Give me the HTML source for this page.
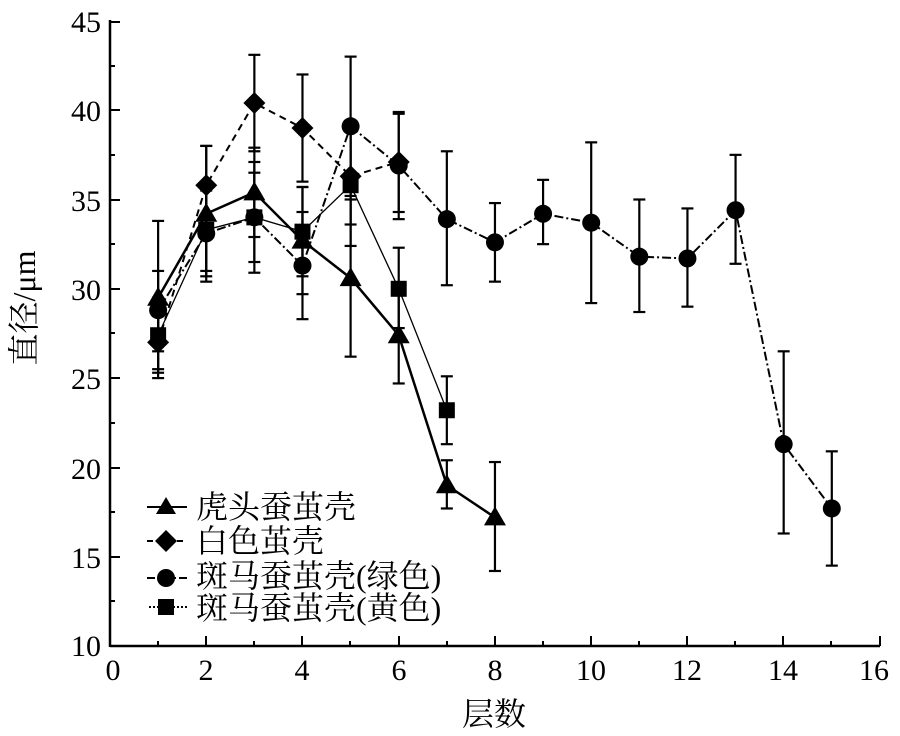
<!DOCTYPE html>
<html><head><meta charset="utf-8"><style>
html,body{margin:0;padding:0;background:#fff;}
svg text{font-family:"Liberation Serif","Noto Serif CJK SC",serif;fill:#000;}
</style></head><body>
<svg width="900" height="731" viewBox="0 0 900 731" xmlns="http://www.w3.org/2000/svg">
<g id="axes" stroke="#000" stroke-width="2.5" fill="none">
<line x1="110" y1="646" x2="880" y2="646"/>
<line x1="110" y1="20" x2="110" y2="647"/>
</g>
<g stroke="#000" stroke-width="2">
<line x1="206" y1="646" x2="206" y2="636"/><line x1="302" y1="646" x2="302" y2="636"/>
<line x1="399" y1="646" x2="399" y2="636"/><line x1="495" y1="646" x2="495" y2="636"/>
<line x1="591" y1="646" x2="591" y2="636"/><line x1="687" y1="646" x2="687" y2="636"/>
<line x1="783" y1="646" x2="783" y2="636"/><line x1="880" y1="646" x2="880" y2="636"/>
<line x1="158" y1="646" x2="158" y2="641"/><line x1="254" y1="646" x2="254" y2="641"/>
<line x1="350" y1="646" x2="350" y2="641"/><line x1="447" y1="646" x2="447" y2="641"/>
<line x1="543" y1="646" x2="543" y2="641"/><line x1="639" y1="646" x2="639" y2="641"/>
<line x1="735" y1="646" x2="735" y2="641"/><line x1="831" y1="646" x2="831" y2="641"/>
<line x1="110" y1="22" x2="120" y2="22"/><line x1="110" y1="110" x2="120" y2="110"/>
<line x1="110" y1="200" x2="120" y2="200"/><line x1="110" y1="289" x2="120" y2="289"/>
<line x1="110" y1="378" x2="120" y2="378"/><line x1="110" y1="468" x2="120" y2="468"/>
<line x1="110" y1="557" x2="120" y2="557"/>
<line x1="110" y1="66" x2="115" y2="66"/><line x1="110" y1="155" x2="115" y2="155"/>
<line x1="110" y1="244" x2="115" y2="244"/><line x1="110" y1="333" x2="115" y2="333"/>
<line x1="110" y1="423" x2="115" y2="423"/><line x1="110" y1="512" x2="115" y2="512"/>
<line x1="110" y1="601" x2="115" y2="601"/>
</g>
<g font-size="30" text-anchor="middle">
<text x="113" y="680">0</text><text x="206" y="680">2</text><text x="302" y="680">4</text>
<text x="399" y="680">6</text><text x="495" y="680">8</text><text x="591" y="680">10</text>
<text x="687" y="680">12</text><text x="783" y="680">14</text><text x="874" y="680">16</text>
</g>
<g font-size="30" text-anchor="end">
<text x="101" y="32">45</text><text x="101" y="121">40</text><text x="101" y="211">35</text>
<text x="101" y="300">30</text><text x="101" y="389">25</text><text x="101" y="479">20</text>
<text x="101" y="568">15</text><text x="101" y="656">10</text>
</g>
<text x="494" y="725" font-size="32" text-anchor="middle">层数</text>
<text transform="translate(35,308) rotate(-90)" font-size="32" text-anchor="middle">直径/μm</text>

<g stroke="#000" stroke-width="2.2" id="eb"></g>
<g id="lines" fill="none" stroke="#000"></g>
<g id="marks" fill="#000"></g>

<g stroke="#000" stroke-width="2">
<line x1="147" y1="507" x2="187" y2="507"/>
<line x1="147" y1="541" x2="187" y2="541" stroke-dasharray="6,4"/>
<line x1="147" y1="578" x2="187" y2="578" stroke-dasharray="8,3,2,3"/>
<line x1="149" y1="607" x2="187" y2="607" stroke-dasharray="2,2"/>
</g>
<g fill="#000">
<polygon points="166,497 176,514 156,514"/>
<polygon points="166,530 177,541 166,552 155,541"/>
<circle cx="166" cy="578" r="9"/>
<rect x="158" y="599" width="16" height="16"/>
</g>
<g font-size="32">
<text x="196" y="518">虎头蚕茧壳</text>
<text x="196" y="552">白色茧壳</text>
<text x="196" y="587">斑马蚕茧壳(绿色)</text>
<text x="196" y="619">斑马蚕茧壳(黄色)</text>
</g>
<script>
const X=v=>110+48.12*v, Y=v=>646-(v-10)*17.86;
const S={
tiger:{dash:"",w:2.5,m:"t",d:[[1,29.5,25.5,33.8],[2,34.2,30.4,38],[3,35.4,32.9,37.9],[4,32.7,29.7,35.7],[5,30.6,26.2,35],[6,27.4,24.7,30.1],[7,19,17.7,20.4],[8,17.2,14.2,20.3]]},
white:{dash:"7,5",w:2,m:"d",d:[[1,27,25,29],[2,35.8,33.6,38],[3,40.4,37.7,43.1],[4,39,36,42],[5,36.3,33.6,39],[6,37.1,34.3,39.9]]},
green:{dash:"9,3,2,3",w:2,m:"c",d:[[1,28.8,26.5,31],[2,33.1,30.7,35.5],[3,34,31.5,36.5],[4,31.3,28.3,34.3],[5,39.1,35.2,43],[6,36.9,33.9,39.8],[7,33.9,30.2,37.7],[8,32.6,30.4,34.8],[9,34.2,32.5,36.1],[10,33.7,29.2,38.2],[11,31.8,28.7,35],[12,31.7,29,34.5],[13,34.4,31.4,37.5],[14,21.3,16.3,26.5],[15,17.7,14.5,20.9]]},
yellow:{dash:"",w:1.3,m:"s",d:[[1,27.4,25.3,29.5],[2,33.3,31,35.6],[3,34,30.9,37.1],[4,33.2,30.7,35.7],[5,35.8,32.4,39.2],[6,30,27.8,32.3],[7,23.2,21.3,25.1]]}};
const ns="http://www.w3.org/2000/svg";
const mk=(t,a,p)=>{const e=document.createElementNS(ns,t);for(const k in a)e.setAttribute(k,a[k]);document.getElementById(p).appendChild(e);};
for(const k in S){const s=S[k];
 s.d.forEach(([x,y,l,h])=>{const cx=X(x);mk("line",{x1:cx,x2:cx,y1:Y(l),y2:Y(h)},"eb");
  mk("line",{x1:cx-6,x2:cx+6,y1:Y(l),y2:Y(l)},"eb");mk("line",{x1:cx-6,x2:cx+6,y1:Y(h),y2:Y(h)},"eb");});
 mk("polyline",{points:s.d.map(p=>X(p[0])+","+Y(p[1])).join(" "),"stroke-width":s.w,"stroke-dasharray":s.dash},"lines");
}
for(const k in S){const s=S[k];
 s.d.forEach(([x,y])=>{const cx=X(x),cy=Y(y);
  if(s.m=="t")mk("polygon",{points:`${cx},${cy-11} ${cx+11},${cy+8} ${cx-11},${cy+8}`},"marks");
  if(s.m=="d")mk("polygon",{points:`${cx},${cy-11} ${cx+11},${cy} ${cx},${cy+11} ${cx-11},${cy}`},"marks");
  if(s.m=="c")mk("circle",{cx:cx,cy:cy,r:9},"marks");
  if(s.m=="s")mk("rect",{x:cx-8,y:cy-8,width:16,height:16},"marks");});
}
</script>
</svg>
</body></html>
